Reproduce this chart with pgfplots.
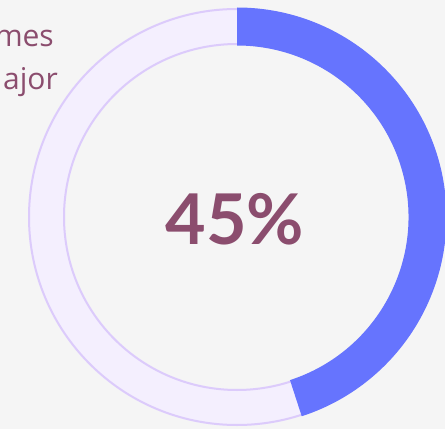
\documentclass[border=0pt]{standalone}
\usepackage{fontspec}
\setmainfont{Open Sans}
\newfontfamily\numfont{Lato}
\usepackage{pgfplots}
\usepackage{pgfplotstable}
\pgfplotsset{compat=1.18}

\definecolor{bg}{HTML}{F5F5F5}
\definecolor{done}{HTML}{6674FE}
\definecolor{track}{HTML}{F4EFFE}
\definecolor{trackline}{HTML}{DCCBFB}
\definecolor{txt}{HTML}{8B4D6E}

% share of the ring that is filled
\pgfplotstableread{
part  value
done  45
rest  55
}\ringdata

\begin{document}
\begin{tikzpicture}
\pgfplotstablegetelem{0}{value}\of\ringdata
\pgfmathtruncatemacro{\pct}{\pgfplotsretval}
\pgfmathsetmacro{\endang}{90-3.6*\pct}
\begin{axis}[
    width=445pt, height=429pt, scale only axis,
    xmin=0, xmax=445, ymin=0, ymax=429,
    hide axis, clip=true,
]
% background
\fill[bg] (axis cs:0,0) rectangle (axis cs:445,429);
% track
\fill[track, even odd rule] (axis cs:237,212) circle[radius=209pt]
    (axis cs:237,212) circle[radius=172pt];
\draw[trackline, line width=2pt] (axis cs:237,212) circle[radius=208pt];
\draw[trackline, line width=2pt] (axis cs:237,212) circle[radius=173pt];
% filled part
\fill[done] ([shift={(90:209.5pt)}]axis cs:237,212)
    arc[start angle=90, end angle=\endang, radius=209.5pt]
    -- ([shift={(\endang:171.5pt)}]axis cs:237,212)
    arc[start angle=\endang, end angle=90, radius=171.5pt] -- cycle;
% labels (cut off at the left edge in the original)
\node[anchor=base east, inner sep=0pt, text=txt, font=\fontsize{30}{36}\selectfont]
    at (axis cs:54,382) {mes};
\node[anchor=base east, inner sep=0pt, text=txt, font=\fontsize{30}{36}\selectfont]
    at (axis cs:58,339) {ajor};
\node[anchor=base, inner sep=0pt, text=txt, font=\numfont\bfseries\fontsize{70}{80}\selectfont]
    at (axis cs:235,184) {\pct\%};
\end{axis}
\end{tikzpicture}
\end{document}
